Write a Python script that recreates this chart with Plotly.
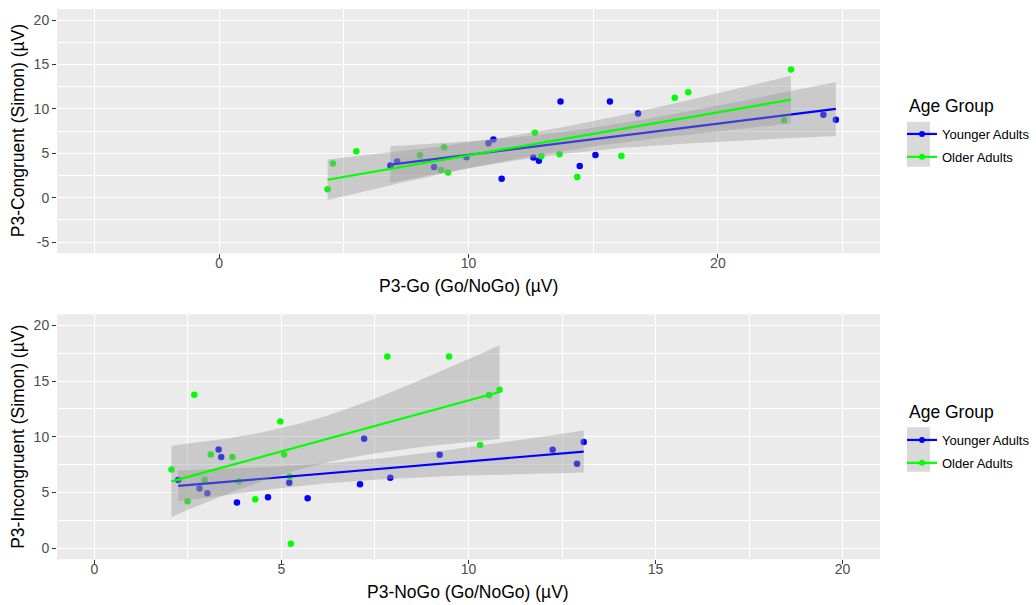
import numpy as np
import plotly.graph_objects as go

# ---------------- data ----------------
top_young_x = [6.87, 7.14, 8.62, 9.92, 10.80, 11.00, 11.33, 12.60, 12.82, 13.69, 14.46, 15.09, 15.67, 16.80, 24.23, 24.73]
top_young_y = [3.62, 4.07, 3.47, 4.56, 6.13, 6.57, 2.13, 4.52, 4.18, 10.84, 3.59, 4.82, 10.84, 9.49, 9.34, 8.78]
top_old_x = [4.35, 4.56, 5.50, 8.05, 8.90, 9.02, 9.18, 12.66, 12.92, 13.65, 14.36, 16.13, 18.27, 18.81, 22.65, 22.93]
top_old_y = [0.97, 3.85, 5.23, 4.78, 3.14, 5.68, 2.84, 7.32, 4.67, 4.90, 2.35, 4.71, 11.25, 11.88, 8.74, 14.43]

bot_young_x = [2.24, 2.81, 3.02, 3.32, 3.39, 3.81, 4.64, 5.21, 5.70, 7.10, 7.21, 7.91, 9.23, 12.25, 12.90, 13.08]
bot_young_y = [6.11, 5.36, 4.94, 8.87, 8.18, 4.11, 4.58, 5.87, 4.49, 5.75, 9.83, 6.32, 8.39, 8.84, 7.58, 9.53]
bot_old_x = [2.06, 2.49, 2.67, 2.95, 3.11, 3.69, 3.86, 4.30, 4.97, 5.07, 5.22, 5.25, 7.83, 9.48, 10.31, 10.55, 10.83]
bot_old_y = [7.07, 4.22, 13.78, 6.11, 8.42, 8.18, 5.99, 4.40, 11.38, 8.42, 6.44, 0.39, 17.22, 17.22, 9.26, 13.75, 14.23]

groups = ["Younger Adults", "Older Adults"]
colors = {"Younger Adults": "#0000FF", "Older Adults": "#00FF00"}
legend_title = "Age Group"

top_xticks = [0, 10, 20]
top_yticks = [-5, 0, 5, 10, 15, 20]
top_yticklabels = ["-5", "0", "5", "10", "15", "20"]
bot_ticks = [0, 5, 10, 15, 20]

top_xlabel = "P3-Go (Go/NoGo) (µV)"
top_ylabel = "P3-Congruent (Simon) (µV)"
bot_xlabel = "P3-NoGo (Go/NoGo) (µV)"
bot_ylabel = "P3-Incongruent (Simon) (µV)"

# Student t 0.975 quantiles for the residual degrees of freedom
T975 = {13: 2.160369, 14: 2.144787, 15: 2.131450, 16: 2.119905}


def lm_band(x, y, npts=80):
    x = np.asarray(x, float)
    y = np.asarray(y, float)
    n = len(x)
    b1, b0 = np.polyfit(x, y, 1)
    resid = y - (b0 + b1 * x)
    s = np.sqrt(np.sum(resid ** 2) / (n - 2))
    xm = x.mean()
    sxx = np.sum((x - xm) ** 2)
    xg = np.linspace(x.min(), x.max(), npts)
    yg = b0 + b1 * xg
    se = s * np.sqrt(1.0 / n + (xg - xm) ** 2 / sxx)
    t = T975[n - 2]
    return xg, yg, yg - t * se, yg + t * se


fig = go.Figure()

panels = [
    ("x", "y", "legend", {"Younger Adults": (top_young_x, top_young_y), "Older Adults": (top_old_x, top_old_y)}),
    ("x2", "y2", "legend2", {"Younger Adults": (bot_young_x, bot_young_y), "Older Adults": (bot_old_x, bot_old_y)}),
]

for xa, ya, leg, dd in panels:
    for g in groups:
        gx, gy = dd[g]
        fig.add_trace(go.Scatter(
            x=gx, y=gy, mode="markers", xaxis=xa, yaxis=ya,
            marker=dict(color=colors[g], size=6.5, line=dict(width=0)),
            showlegend=False, hoverinfo="x+y",
        ))
    for g in groups:
        gx, gy = dd[g]
        xg, yg, lo, hi = lm_band(gx, gy)
        fig.add_trace(go.Scatter(
            x=np.concatenate([xg, xg[::-1]]), y=np.concatenate([hi, lo[::-1]]),
            mode="lines", fill="toself", fillcolor="rgba(153,153,153,0.4)",
            line=dict(width=0), xaxis=xa, yaxis=ya, showlegend=False, hoverinfo="skip",
        ))
        fig.add_trace(go.Scatter(
            x=xg, y=yg, mode="lines", line=dict(color=colors[g], width=2.2),
            xaxis=xa, yaxis=ya, showlegend=False, hoverinfo="skip",
        ))
    for g in groups:
        fig.add_trace(go.Scatter(
            x=[None], y=[None], mode="lines+markers", name=g,
            line=dict(color=colors[g], width=2.2),
            marker=dict(color=colors[g], size=6),
            xaxis=xa, yaxis=ya, legend=leg, legendgroup=leg + g, showlegend=True,
        ))

axis_common = dict(
    showgrid=True, gridcolor="white", gridwidth=1.1, zeroline=False,
    ticks="outside", ticklen=4, tickcolor="#333333", tickwidth=1,
    tickfont=dict(family="Liberation Sans, Arial", size=14, color="#4D4D4D"),
    showline=False, layer="below traces",
)
minor5 = dict(dtick=5, showgrid=True, gridcolor="white", gridwidth=0.5)
minor25 = dict(dtick=2.5, showgrid=True, gridcolor="white", gridwidth=0.5)

X0, X1 = 57 / 1036, 880 / 1036
TOP = [1 - 253.3 / 605, 1 - 9 / 605]
BOT = [1 - 559.3 / 605, 1 - 314.3 / 605]

leg_common = dict(xanchor="left", yanchor="top", font=dict(size=13, color="black"),
                  bgcolor="rgba(0,0,0,0)", itemwidth=30, traceorder="grouped", tracegroupgap=3)

fig.update_layout(
    width=1036, height=605,
    margin=dict(l=0, r=0, t=0, b=0),
    paper_bgcolor="white", plot_bgcolor="#EBEBEB",
    font=dict(family="Liberation Sans, Arial", color="black"),
    xaxis=dict(domain=[X0, X1], range=[-6.5, 26.5], tickmode="array", tickvals=top_xticks, anchor="y",
               ticklabelstandoff=-7, minor=minor5, **axis_common),
    yaxis=dict(domain=TOP, range=[-6.25, 21.25], tickmode="array", tickvals=top_yticks,
               ticktext=top_yticklabels, anchor="x", minor=minor25, **axis_common),
    xaxis2=dict(domain=[X0, X1], range=[-1, 21], tickmode="array", tickvals=bot_ticks, anchor="y2",
                ticklabelstandoff=-7, minor=minor25, **axis_common),
    yaxis2=dict(domain=BOT, range=[-1, 21], tickmode="array", tickvals=bot_ticks, anchor="x2",
                minor=minor25, **axis_common),
    legend=dict(x=902 / 1036, y=1 - 119 / 605, **leg_common),
    legend2=dict(x=902 / 1036, y=1 - 425 / 605, **leg_common),
    shapes=[
        dict(type="rect", xref="paper", yref="paper", x0=907 / 1036, x1=930 / 1036,
             y0=1 - 166.7 / 605, y1=1 - 121.7 / 605, fillcolor="#D9D9D9", line=dict(width=0), layer="below"),
        dict(type="rect", xref="paper", yref="paper", x0=907 / 1036, x1=930 / 1036,
             y0=1 - 471.7 / 605, y1=1 - 427.3 / 605, fillcolor="#D9D9D9", line=dict(width=0), layer="below"),
    ],
    annotations=[
        dict(text=legend_title, xref="paper", yref="paper", x=907 / 1036, y=1 - 106 / 605,
             showarrow=False, font=dict(size=17.5, color="black"), xanchor="left", yanchor="middle"),
        dict(text=legend_title, xref="paper", yref="paper", x=907 / 1036, y=1 - 412 / 605,
             showarrow=False, font=dict(size=17.5, color="black"), xanchor="left", yanchor="middle"),
        dict(text=top_xlabel, xref="paper", yref="paper", x=(X0 + X1) / 2, y=1 - 286 / 605,
             showarrow=False, font=dict(size=17.5, color="black"), xanchor="center", yanchor="middle"),
        dict(text=top_ylabel, xref="paper", yref="paper", x=18 / 1036, y=sum(TOP) / 2, textangle=-90,
             showarrow=False, font=dict(size=17.5, color="black"), xanchor="center", yanchor="middle"),
        dict(text=bot_xlabel, xref="paper", yref="paper", x=(X0 + X1) / 2, y=1 - 592 / 605,
             showarrow=False, font=dict(size=17.5, color="black"), xanchor="center", yanchor="middle"),
        dict(text=bot_ylabel, xref="paper", yref="paper", x=18 / 1036, y=sum(BOT) / 2, textangle=-90,
             showarrow=False, font=dict(size=17.5, color="black"), xanchor="center", yanchor="middle"),
    ],
)

fig.write_html("out.html")
